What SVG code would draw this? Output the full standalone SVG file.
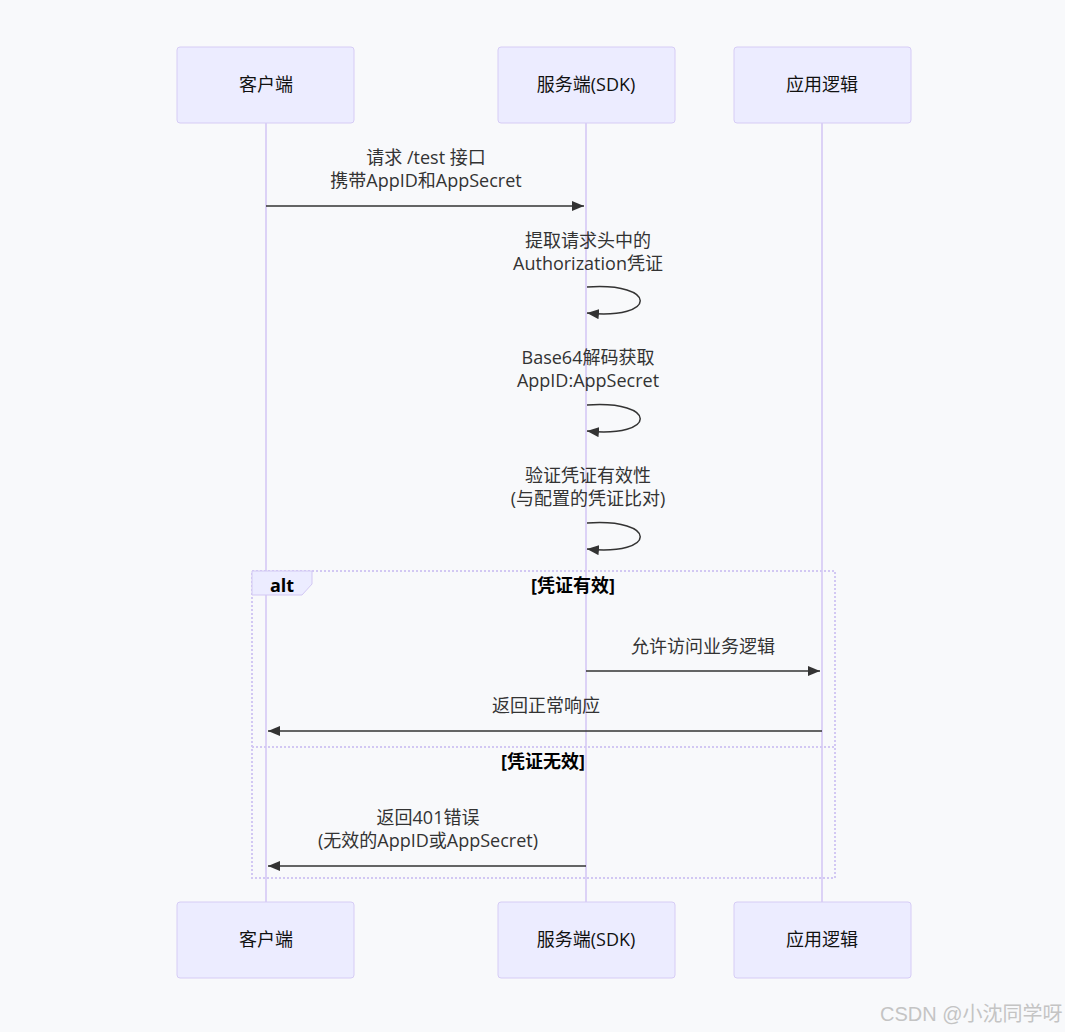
<svg xmlns="http://www.w3.org/2000/svg" width="1065" height="1032" viewBox="0 0 1065 1032">
<style>
.bg{fill:#f8f9fb}
.actor{fill:#ececff;stroke:#d6ccf5;stroke-width:1}
.life{stroke:#dcd2f6;stroke-width:2;fill:none}
.t{font-family:"Open Sans","Noto Sans CJK SC",sans-serif;font-size:18px;fill:#333;text-anchor:middle}
.a{font-family:"Open Sans","Noto Sans CJK SC",sans-serif;font-size:18px;fill:#111;text-anchor:middle}
.b{font-family:"Open Sans","Noto Sans CJK SC",sans-serif;font-size:18px;fill:#000;text-anchor:middle;font-weight:bold}
.msg{stroke:#333;stroke-width:1.5;fill:none}
.loop{stroke:#d2c8f3;stroke-width:2;stroke-dasharray:2,2;fill:none}
.wm{font-family:"Liberation Sans","Noto Sans CJK SC",sans-serif;font-size:20px;fill:#c4c4c4}
</style>
<defs>
<marker id="arr" viewBox="0 0 12 10" refX="12" refY="5" markerWidth="12" markerHeight="10" markerUnits="userSpaceOnUse" orient="auto">
<path d="M0,0 L12,5 L0,10 z" fill="#333"/>
</marker>
</defs>
<rect class="bg" x="0" y="0" width="1065" height="1032"/>
<g id="lifelines">
<line class="life" x1="266" y1="123" x2="266" y2="902"/>
<line class="life" x1="586" y1="123" x2="586" y2="902"/>
<line class="life" x1="822" y1="123" x2="822" y2="902"/>
</g>
<g id="alt-frame">
<rect class="loop" x="252" y="571" width="583" height="307"/>
<path d="M252,571 H312 V584 L302,595 H252 Z" fill="#ececff" stroke="#d2c8f3" stroke-width="1"/>
<text class="b" x="282" y="592">alt</text>
<text class="b" x="573" y="592">[凭证有效]</text>
<line class="loop" x1="252" y1="747" x2="835" y2="747"/>
<text class="b" x="543" y="768">[凭证无效]</text>
</g>
<g id="actor-client-top"><rect class="actor" x="177" y="47" width="177" height="76" rx="3"/><text class="a" x="266" y="91">客户端</text></g>
<g id="actor-server-top"><rect class="actor" x="498" y="47" width="177" height="76" rx="3"/><text class="a" x="586" y="91">服务端(SDK)</text></g>
<g id="actor-app-top"><rect class="actor" x="734" y="47" width="177" height="76" rx="3"/><text class="a" x="822" y="91">应用逻辑</text></g>
<g id="actor-client-bottom"><rect class="actor" x="177" y="902" width="177" height="76" rx="3"/><text class="a" x="266" y="946">客户端</text></g>
<g id="actor-server-bottom"><rect class="actor" x="498" y="902" width="177" height="76" rx="3"/><text class="a" x="586" y="946">服务端(SDK)</text></g>
<g id="actor-app-bottom"><rect class="actor" x="734" y="902" width="177" height="76" rx="3"/><text class="a" x="822" y="946">应用逻辑</text></g>
<g id="messages">
<text class="t" x="426" y="164">请求 /test 接口</text>
<text class="t" x="426" y="187">携带AppID和AppSecret</text>
<line class="msg" x1="266" y1="206" x2="584" y2="206" marker-end="url(#arr)"/>
<text class="t" x="588" y="247">提取请求头中的</text>
<text class="t" x="588" y="270">Authorization凭证</text>
<path class="msg" d="M587,287 C658,282 658,320 587,313" marker-end="url(#arr)"/>
<text class="t" x="588" y="364">Base64解码获取</text>
<text class="t" x="588" y="387">AppID:AppSecret</text>
<path class="msg" d="M587,405 C658,400 658,438 587,431" marker-end="url(#arr)"/>
<text class="t" x="588" y="482">验证凭证有效性</text>
<text class="t" x="588" y="505">(与配置的凭证比对)</text>
<path class="msg" d="M587,523 C658,518 658,556 587,549" marker-end="url(#arr)"/>
<text class="t" x="703" y="653">允许访问业务逻辑</text>
<line class="msg" x1="586" y1="671" x2="820" y2="671" marker-end="url(#arr)"/>
<text class="t" x="546" y="712">返回正常响应</text>
<line class="msg" x1="822" y1="731" x2="268" y2="731" marker-end="url(#arr)"/>
<text class="t" x="428" y="824">返回401错误</text>
<text class="t" x="428" y="847">(无效的AppID或AppSecret)</text>
<line class="msg" x1="586" y1="866" x2="268" y2="866" marker-end="url(#arr)"/>
</g>
<text class="wm" x="880" y="1021">CSDN @小沈同学呀</text>
</svg>
